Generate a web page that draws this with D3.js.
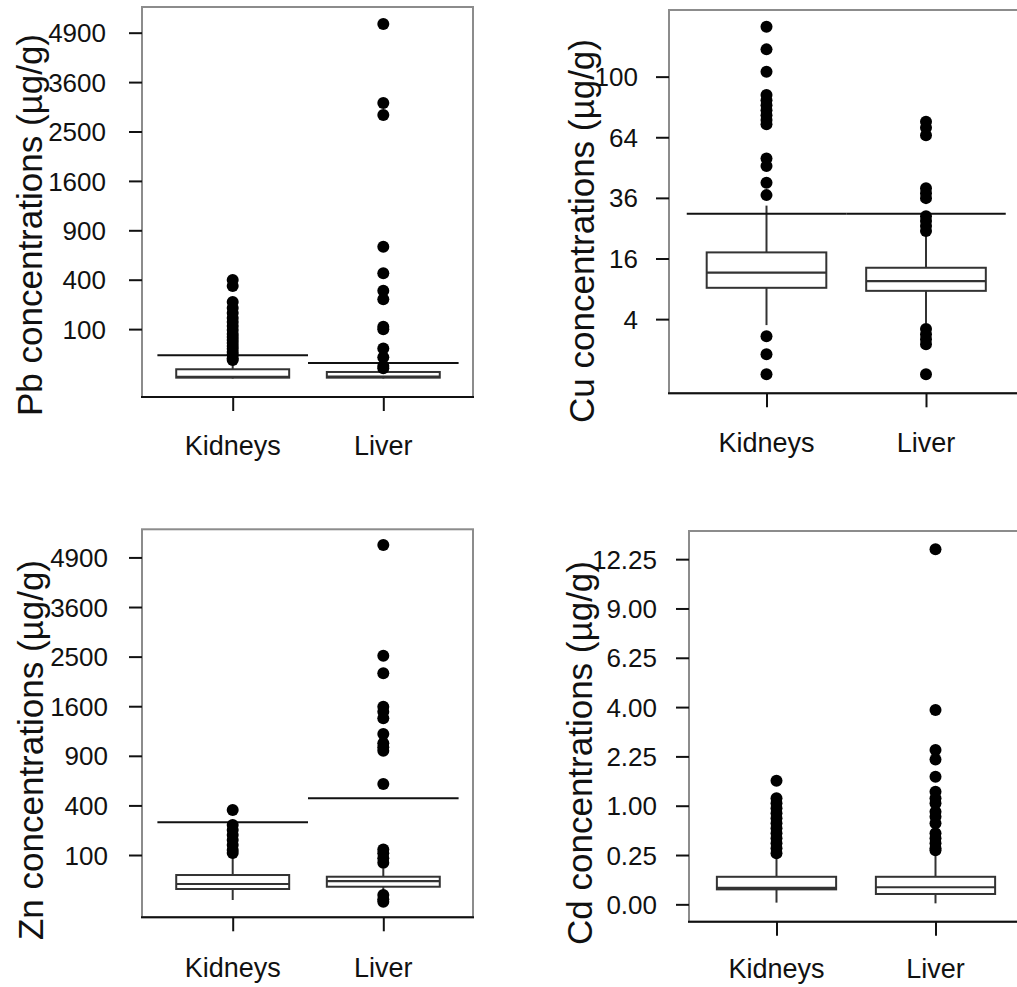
<!DOCTYPE html>
<html>
<head>
<meta charset="utf-8">
<script src="https://cdn.jsdelivr.net/npm/d3@7"></script>
<style>
  body { margin: 0; background: #fff; }
  svg { display: block; }
  text { font-family: "Liberation Sans", Arial, Helvetica, sans-serif; }
</style>
</head>
<body>
<svg id="chart" width="1017" height="987"></svg>
<script>
// Tissue groups on the x axis
const organs = ["Kidneys", "Liver"];

// Box statistics per organ: [lower whisker, Q1, median, Q3, upper whisker], in µg/g

// Lead
const pbTicks = [100, 400, 900, 1600, 2500, 3600, 4900];
const pbKidneysBox = [0, 0.03, 0.1, 3.5, 10];
const pbLiverBox = [0, 0.03, 0.15, 1.75, 3.3];
const pbKidneysOut = [398, 351, 240, 204, 176, 150, 131, 113, 96, 81, 71, 61, 52, 43, 36, 29, 23, 17, 14];
const pbLiverOut = [5150, 3110, 2845, 712, 453, 316, 257, 110, 99, 37, 18.4, 6.4, 4.3];
const pbLimits = [22, 10];

// Copper
const cuTicks = [4, 16, 36, 64, 100];
const cuKidneysBox = [3.25, 9.2, 12.5, 17.65, 33];
const cuLiverBox = [3.45, 8.6, 10.6, 13.65, 23.3];
const cuKidneysOut = [135.6, 118.8, 103.3, 88.2, 85.1, 82.0, 79.1, 76.2, 73.4, 71.1, 53.3, 49.7, 42.2, 37.1, 2.07, 0.71, 0.034];
const cuLiverOut = [72.4, 69.1, 65.1, 39.9, 37.9, 35.9, 29.1, 27.4, 25.7, 24.1, 2.79, 2.26, 1.79, 1.38, 0.034];
const cuLimits = [30, 30];

// Zinc
const znTicks = [100, 400, 900, 1600, 2500, 3600, 4900];
const znKidneysBox = [0.86, 9.9, 17.3, 35.6, 95];
const znLiverBox = [5.2, 13, 22.6, 31.6, 53.6];
const znKidneysOut = [364, 258, 226, 197, 170, 144, 121, 108];
const znLiverOut = [5256, 2518, 2174, 1592, 1513, 1411, 1183, 1057, 1006, 962, 592, 124, 107, 87, 71, 3.75, 1.14, 0.34];
const znLimits = [275, 460];

// Cadmium
const cdTicks = [0, 0.25, 1, 2.25, 4, 6.25, 9, 12.25];
const cdKidneysBox = [0.0003, 0.023, 0.028, 0.078, 0.233];
const cdLiverBox = [0.0001, 0.011, 0.03, 0.078, 0.25];
const cdKidneysOut = [1.57, 1.156, 1.049, 0.948, 0.852, 0.761, 0.675, 0.594, 0.518, 0.448, 0.383, 0.323, 0.268];
const cdLiverOut = [12.96, 3.88, 2.45, 2.16, 1.675, 1.304, 1.156, 1.049, 0.882, 0.789, 0.675, 0.518, 0.448, 0.383, 0.323, 0.302];
const cdLimits = [];

// Panel layout: plot frame, group centres, axis text placement
const panels = [
  { metal: "Pb", ticks: pbTicks, fmt: d3.format("d"), boxes: [pbKidneysBox, pbLiverBox],
    outliers: [pbKidneysOut, pbLiverOut], limits: pbLimits, domain: [-14, 5655],
    frame: { l: 142, t: 7, r: 473, b: 397 }, centers: [232.7, 383.3],
    labelGap: 36, titleX: 42, titleY: 225, xLabelY: 455 },
  { metal: "Cu", ticks: cuTicks, fmt: d3.format("d"), boxes: [cuKidneysBox, cuLiverBox],
    outliers: [cuKidneysOut, cuLiverOut], limits: cuLimits, domain: [-0.2, 148.8],
    frame: { l: 669, t: 10, r: 1040, b: 393.3 }, centers: [766.5, 926],
    labelGap: 31, titleX: 594, titleY: 231, xLabelY: 452 },
  { metal: "Zn", ticks: znTicks, fmt: d3.format("d"), boxes: [znKidneysBox, znLiverBox],
    outliers: [znKidneysOut, znLiverOut], limits: znLimits, domain: [-6.55, 5726],
    frame: { l: 142, t: 529.3, r: 473, b: 917.3 }, centers: [232.7, 383.3],
    labelGap: 34, titleX: 43, titleY: 750, xLabelY: 977 },
  { metal: "Cd", ticks: cdTicks, fmt: d3.format(".2f"), boxes: [cdKidneysBox, cdLiverBox],
    outliers: [cdKidneysOut, cdLiverOut], limits: cdLimits, domain: [-0.031, 14.33],
    frame: { l: 689, t: 531, r: 1040, b: 921.7 }, centers: [776.5, 935.5],
    labelGap: 32, titleX: 592, titleY: 753, xLabelY: 978 }
];

const svg = d3.select("#chart");
const ink = "#111";
const boxInk = "#333";

panels.forEach(p => {
  const g = svg.append("g").attr("class", "panel-" + p.metal);
  const f = p.frame;

  // square-root scaled concentration axis
  const y = d3.scaleSqrt().domain(p.domain).range([f.b, f.t]);
  const x = d3.scalePoint().domain(organs).range(p.centers);
  const step = x.step();
  const boxW = step * 0.75;

  // plot frame
  g.append("rect")
    .attr("x", f.l).attr("y", f.t)
    .attr("width", f.r - f.l).attr("height", f.b - f.t)
    .attr("fill", "none").attr("stroke", "#8c8c8c").attr("stroke-width", 2);

  // bottom axis line
  g.append("line")
    .attr("x1", f.l - 1).attr("x2", f.r + 1)
    .attr("y1", f.b).attr("y2", f.b)
    .attr("stroke", ink).attr("stroke-width", 2);

  // y axis ticks and labels
  const yAxis = g.append("g")
    .attr("transform", `translate(${f.l},0)`)
    .call(d3.axisLeft(y).tickValues(p.ticks).tickFormat(p.fmt)
      .tickSize(13).tickPadding(p.labelGap - 13));
  yAxis.select(".domain").remove();
  yAxis.attr("color", ink)
    .attr("font-size", 26)
    .attr("font-family", '"Liberation Sans", Arial, sans-serif');
  yAxis.selectAll(".tick line").attr("stroke-width", 2);
  yAxis.selectAll(".tick text").attr("dy", "0.35em");

  // x axis ticks
  const xAxis = g.append("g")
    .attr("transform", `translate(0,${f.b})`)
    .call(d3.axisBottom(x).tickSize(14).tickFormat(""));
  xAxis.select(".domain").remove();
  xAxis.attr("color", ink);
  xAxis.selectAll(".tick line").attr("stroke-width", 2);

  // group labels
  g.selectAll("text.group")
    .data(organs)
    .join("text")
    .attr("class", "group")
    .attr("x", d => x(d))
    .attr("y", p.xLabelY)
    .attr("text-anchor", "middle")
    .attr("font-size", 27)
    .attr("fill", ink)
    .text(d => d);

  // axis title
  g.append("text")
    .attr("transform", `translate(${p.titleX},${p.titleY}) rotate(-90)`)
    .attr("text-anchor", "middle")
    .attr("font-size", 35)
    .attr("fill", ink)
    .text(`${p.metal} concentrations (µg/g)`);

  // boxplots
  organs.forEach((organ, i) => {
    const [lo, q1, med, q3, hi] = p.boxes[i];
    const cx = x(organ);
    const bg = g.append("g").attr("class", "box");

    bg.append("line")
      .attr("x1", cx).attr("x2", cx)
      .attr("y1", y(q3)).attr("y2", y(hi))
      .attr("stroke", boxInk).attr("stroke-width", 2);
    bg.append("line")
      .attr("x1", cx).attr("x2", cx)
      .attr("y1", y(q1)).attr("y2", y(lo))
      .attr("stroke", boxInk).attr("stroke-width", 2);
    bg.append("rect")
      .attr("x", cx - boxW / 2).attr("width", boxW)
      .attr("y", y(q3)).attr("height", y(q1) - y(q3))
      .attr("fill", "#fff").attr("stroke", boxInk).attr("stroke-width", 2);
    bg.append("line")
      .attr("x1", cx - boxW / 2).attr("x2", cx + boxW / 2)
      .attr("y1", y(med)).attr("y2", y(med))
      .attr("stroke", boxInk).attr("stroke-width", 2.2);
  });

  // reference limit per organ
  g.selectAll("line.limit")
    .data(p.limits.map((v, i) => ({ organ: organs[i], v })))
    .join("line")
    .attr("class", "limit")
    .attr("x1", d => x(d.organ) - step / 2)
    .attr("x2", d => x(d.organ) + step / 2)
    .attr("y1", d => y(d.v)).attr("y2", d => y(d.v))
    .attr("stroke", ink).attr("stroke-width", 2);

  // outlying samples
  organs.forEach((organ, i) => {
    g.selectAll(null)
      .data(p.outliers[i])
      .join("circle")
      .attr("cx", x(organ))
      .attr("cy", d => y(d))
      .attr("r", 6)
      .attr("fill", "#000");
  });
});
</script>
</body>
</html>
